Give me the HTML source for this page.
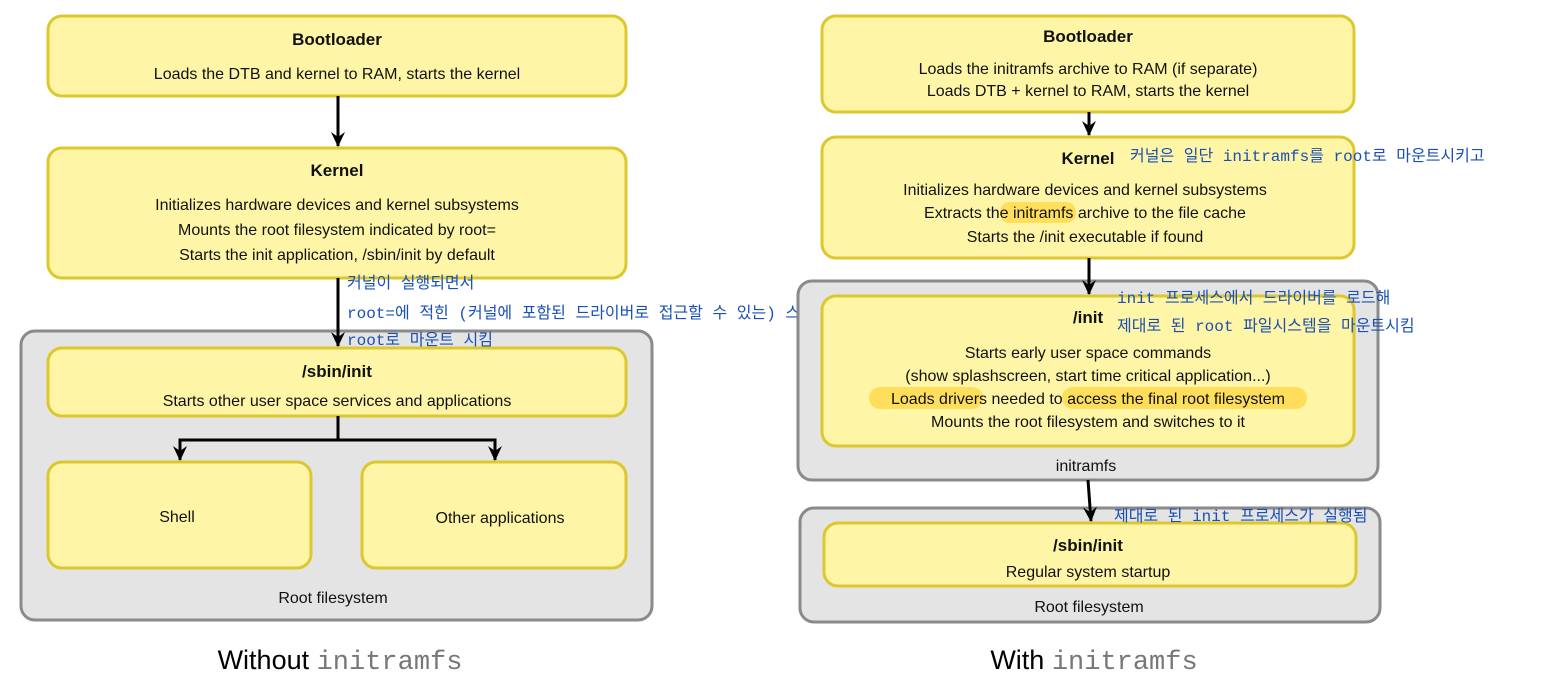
<!DOCTYPE html>
<html><head><meta charset="utf-8"><style>
html,body{margin:0;padding:0;background:#fff;}
svg{display:block;}
.t{font-family:"Liberation Sans",sans-serif;font-size:16px;fill:#111;text-anchor:middle;}
.b{font-weight:bold;font-size:17px;}
.k{font-family:"Liberation Mono","Noto Sans CJK KR",monospace;font-size:16px;fill:#1a50b5;}
.y{fill:#fff5a6;stroke:#dcc82e;stroke-width:3;}
.g{fill:#e4e4e4;stroke:#8a8a8a;stroke-width:3;}
.a{stroke:#000;stroke-width:3;fill:none;}
</style></head><body>
<svg width="1542" height="688" viewBox="0 0 1542 688" xmlns="http://www.w3.org/2000/svg">
<defs><marker id="ar" markerWidth="10" markerHeight="10" refX="7" refY="5" orient="auto" markerUnits="userSpaceOnUse"><path d="M0,0 L8,5 L0,10 L3,5 Z" fill="#000"/></marker>
<marker id="ah" markerWidth="16" markerHeight="16" refX="14" refY="8" orient="auto" markerUnits="userSpaceOnUse"><path d="M0,1 L15,8 L0,15 L5,8 Z" fill="#000"/></marker></defs>

<!-- LEFT -->
<rect class="g" x="21" y="331" width="631" height="289" rx="14"/>
<rect class="y" x="48" y="16" width="578" height="80" rx="14"/>
<rect class="y" x="48" y="148" width="578" height="130" rx="14"/>
<rect class="y" x="48" y="348" width="578" height="68" rx="14"/>
<rect class="y" x="48" y="462" width="263" height="106" rx="14"/>
<rect class="y" x="362" y="462" width="264" height="106" rx="14"/>
<line class="a" x1="338" y1="96" x2="338" y2="146" marker-end="url(#ah)"/>
<line class="a" x1="338" y1="278" x2="338" y2="346" marker-end="url(#ah)"/>
<polyline class="a" points="338,416 338,440 180,440 180,460" marker-end="url(#ah)"/>
<polyline class="a" points="338,440 495,440 495,460" marker-end="url(#ah)"/>

<text class="t b" x="337" y="45">Bootloader</text>
<text class="t" x="337" y="79">Loads the DTB and kernel to RAM, starts the kernel</text>
<text class="t b" x="337" y="176">Kernel</text>
<text class="t" x="337" y="210">Initializes hardware devices and kernel subsystems</text>
<text class="t" x="337" y="235">Mounts the root filesystem indicated by root=</text>
<text class="t" x="337" y="260">Starts the init application, /sbin/init by default</text>
<text class="t b" x="337" y="377">/sbin/init</text>
<text class="t" x="337" y="406">Starts other user space services and applications</text>
<text class="t" x="177" y="522">Shell</text>
<text class="t" x="500" y="523">Other applications</text>
<text class="t" x="333" y="603">Root filesystem</text>
<text class="k" x="347" y="288">커널이 실행되면서</text>
<text class="k" x="347" y="318">root=에 적힌 (커널에 포함된 드라이버로 접근할 수 있는) 스토리지를</text>
<text class="k" x="347" y="345">root로 마운트 시킴</text>
<text x="340" y="669" style="font-family:'Liberation Sans',sans-serif;font-size:27px;text-anchor:middle;fill:#000">Without <tspan style="font-family:'Liberation Mono',monospace;fill:#777">initramfs</tspan></text>

<!-- RIGHT -->
<rect class="g" x="798" y="281" width="580" height="199" rx="14"/>
<rect class="g" x="800" y="508" width="580" height="114" rx="14"/>
<rect class="y" x="822" y="16" width="532" height="96" rx="14"/>
<rect class="y" x="822" y="137" width="532" height="121" rx="14"/>
<rect class="y" x="822" y="296" width="532" height="150" rx="14"/>
<rect class="y" x="824" y="523" width="532" height="63" rx="14"/>
<rect x="1000" y="202" width="76" height="21" rx="10" fill="#ffde5c"/>
<rect x="869" y="387" width="114" height="22" rx="11" fill="#ffde5c"/>
<rect x="1062" y="387" width="245" height="22" rx="11" fill="#ffde5c"/>
<line class="a" x1="1089" y1="112" x2="1089" y2="135" marker-end="url(#ah)"/>
<line class="a" x1="1089" y1="258" x2="1089" y2="294" marker-end="url(#ah)"/>
<line class="a" x1="1088" y1="480" x2="1091" y2="521" marker-end="url(#ah)"/>

<text class="t b" x="1088" y="42">Bootloader</text>
<text class="t" x="1088" y="74">Loads the initramfs archive to RAM (if separate)</text>
<text class="t" x="1088" y="96">Loads DTB + kernel to RAM, starts the kernel</text>
<text class="t b" x="1088" y="164">Kernel</text>
<text class="t" x="1085" y="195">Initializes hardware devices and kernel subsystems</text>
<text class="t" x="1085" y="218">Extracts the initramfs archive to the file cache</text>
<text class="t" x="1085" y="242">Starts the /init executable if found</text>
<text class="t b" x="1088" y="323">/init</text>
<text class="t" x="1088" y="358">Starts early user space commands</text>
<text class="t" x="1088" y="381">(show splashscreen, start time critical application...)</text>
<text class="t" x="1088" y="404">Loads drivers needed to access the final root filesystem</text>
<text class="t" x="1088" y="427">Mounts the root filesystem and switches to it</text>
<text class="t" x="1086" y="471">initramfs</text>
<text class="t b" x="1088" y="551">/sbin/init</text>
<text class="t" x="1088" y="577">Regular system startup</text>
<text class="t" x="1089" y="612">Root filesystem</text>
<text class="k" x="1130" y="161">커널은 일단 initramfs를 root로 마운트시키고</text>
<text class="k" x="1117" y="303">init 프로세스에서 드라이버를 로드해</text>
<text class="k" x="1117" y="331">제대로 된 root 파일시스템을 마운트시킴</text>
<text class="k" x="1114" y="521">제대로 된 init 프로세스가 실행됨</text>
<text x="1094" y="669" style="font-family:'Liberation Sans',sans-serif;font-size:27px;text-anchor:middle;fill:#000">With <tspan style="font-family:'Liberation Mono',monospace;fill:#777">initramfs</tspan></text>
</svg>
</body></html>
